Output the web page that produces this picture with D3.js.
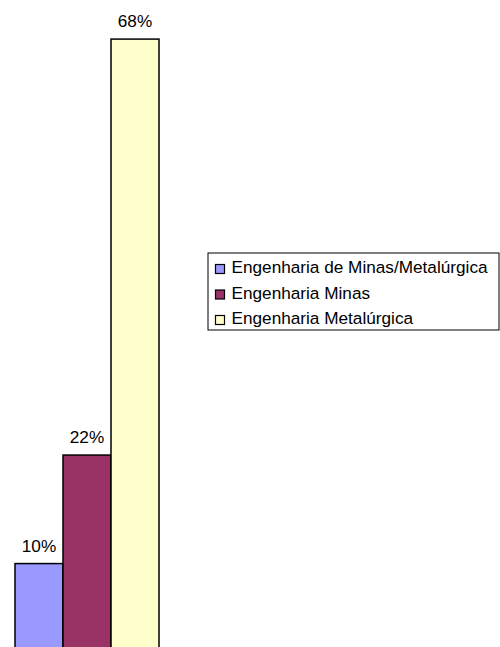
<!DOCTYPE html>
<html>
<head>
<meta charset="utf-8">
<script src="https://cdn.jsdelivr.net/npm/d3@7.9.0/dist/d3.min.js"></script>
<style>
  body { margin: 0; background: #fff; }
  svg { display: block; font-family: "Liberation Sans", Arial, sans-serif; }
</style>
</head>
<body>
<svg id="chart" width="500" height="647"></svg>
<script>
// data
const categories = ["Engenharia de Minas/Metalúrgica", "Engenharia Minas", "Engenharia Metalúrgica"];
const values = [10, 22, 68];
const valueLabels = ["10%", "22%", "68%"];
const colors = ["#9999ff", "#993366", "#ffffcc"];

const svg = d3.select("#chart");

// scales - baseline sits below the visible area (chart is cropped)
const x = d3.scaleBand().domain(categories).range([15, 159]).padding(0);
const y = d3.scaleLinear().domain([0, 70]).range([654, 21]);

// bars
svg.selectAll("rect.bar")
  .data(values)
  .enter()
  .append("rect")
  .attr("class", "bar")
  .attr("x", (d, i) => x(categories[i]))
  .attr("y", d => y(d))
  .attr("width", x.bandwidth())
  .attr("height", d => y(0) - y(d))
  .attr("fill", (d, i) => colors[i])
  .attr("stroke", "#000")
  .attr("stroke-width", 1.5);

// value labels
svg.selectAll("text.val")
  .data(values)
  .enter()
  .append("text")
  .attr("class", "val")
  .attr("x", (d, i) => x(categories[i]) + x.bandwidth() / 2)
  .attr("y", d => y(d) - 12)
  .attr("text-anchor", "middle")
  .attr("font-size", 17.2)
  .attr("fill", "#000")
  .text((d, i) => valueLabels[i]);

// legend
const legend = svg.append("g").attr("transform", "translate(208,253)");
legend.append("rect")
  .attr("width", 291)
  .attr("height", 77)
  .attr("fill", "#fff")
  .attr("stroke", "#000")
  .attr("stroke-width", 1);

const rows = legend.selectAll("g.item")
  .data(categories)
  .enter()
  .append("g")
  .attr("class", "item")
  .attr("transform", (d, i) => `translate(0,${i * 25.5})`);

rows.append("rect")
  .attr("x", 7.5)
  .attr("y", 11.5)
  .attr("width", 9)
  .attr("height", 9)
  .attr("fill", (d, i) => colors[i])
  .attr("stroke", "#000")
  .attr("stroke-width", 1.2);

rows.append("text")
  .attr("x", 23.5)
  .attr("y", 20)
  .attr("font-size", 17.2)
  .attr("fill", "#000")
  .text(d => d);
</script>
</body>
</html>
